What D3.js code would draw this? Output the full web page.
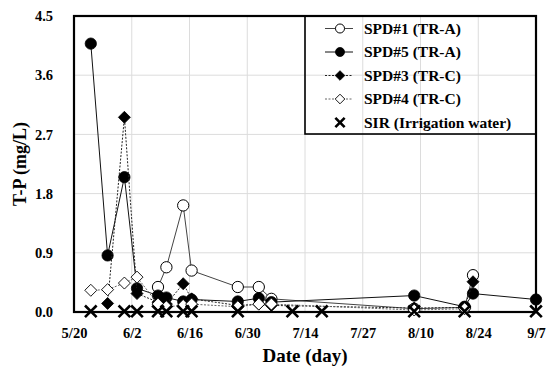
<!DOCTYPE html>
<html>
<head>
<meta charset="utf-8">
<script src="https://cdn.jsdelivr.net/npm/d3@7"></script>
<style>
  body { margin: 0; background: #fff; }
  text { font-family: "Liberation Serif", "Times New Roman", serif; font-weight: bold; fill: #000; }
</style>
</head>
<body>
<div id="root"></div>
<script>
// Sampling dates (month/day) and T-P values (mg/L), null = no sample
const dates = ["5/24", "5/28", "6/1", "6/4", "6/9", "6/11", "6/15", "6/17", "6/28", "7/3", "7/6", "7/11", "7/18", "8/9", "8/21", "8/23", "9/7"];
const spd1 = [null, null, null, null, 0.38, 0.68, 1.62, 0.63, 0.38, 0.38, 0.20, null, null, 0.05, 0.07, 0.56, null];
const spd5 = [4.08, 0.86, 2.05, 0.36, 0.25, 0.22, 0.16, 0.19, 0.16, 0.21, 0.15, null, null, 0.25, 0.08, 0.28, 0.19];
const spd3 = [null, 0.13, 2.96, 0.28, 0.15, 0.12, 0.43, 0.20, 0.10, 0.12, 0.10, null, null, 0.06, 0.07, 0.46, null];
const spd4 = [0.33, 0.34, 0.44, 0.53, 0.12, 0.08, 0.10, 0.12, 0.08, 0.12, 0.12, null, null, 0.03, 0.05, null, null];
const sir  = [0.01, null, 0.01, 0.01, 0.01, 0.01, 0.01, 0.01, 0.01, null, null, 0.01, 0.01, 0.01, 0.01, null, 0.01];

const yTicks = [0, 0.9, 1.8, 2.7, 3.6, 4.5];
const startDate = "5/20";
const endDate = "9/7";

const width = 552;
const height = 367;
const plot = { left: 74, right: 536, top: 16, bottom: 312 };

const toDate = s => { const [m, d] = s.split("/").map(Number); return new Date(2017, m - 1, d); };
const t0 = toDate(startDate);
const dayOf = s => d3.timeDay.count(t0, toDate(s));
const nDays = dayOf(endDate);

const svg = d3.select("#root").append("svg")
  .attr("width", width)
  .attr("height", height);

const x = d3.scaleLinear().domain([0, nDays]).range([plot.left, plot.right]);
const y = d3.scaleLinear().domain([0, 4.5]).range([plot.bottom, plot.top]);

// x ticks: 8 equal steps between start and end, label = floored date
const xTicks = d3.range(0, 9).map(i => i * nDays / 8);
const fmtDay = v => { const dt = d3.timeDay.offset(t0, Math.floor(v + 1e-6)); return (dt.getMonth() + 1) + "/" + dt.getDate(); };

// gridlines
svg.append("g")
  .selectAll("line.h")
  .data(yTicks)
  .join("line")
    .attr("x1", plot.left).attr("x2", plot.right)
    .attr("y1", d => y(d)).attr("y2", d => y(d))
    .attr("stroke", "#dcdcdc").attr("stroke-width", 1);
svg.append("g")
  .selectAll("line.v")
  .data(xTicks)
  .join("line")
    .attr("x1", d => x(d)).attr("x2", d => x(d))
    .attr("y1", plot.top).attr("y2", plot.bottom)
    .attr("stroke", "#dcdcdc").attr("stroke-width", 1);

// axes (labels only)
const yAxis = svg.append("g")
  .attr("transform", `translate(${plot.left - 18},0)`)
  .call(d3.axisLeft(y).tickValues(yTicks).tickFormat(d3.format(".1f")).tickSize(0));
yAxis.select(".domain").remove();
yAxis.selectAll("text").style("font-size", "14.5px").style("font-family", null);

const xAxis = svg.append("g")
  .attr("transform", `translate(0,${plot.bottom + 13})`)
  .call(d3.axisBottom(x).tickValues(xTicks).tickFormat(fmtDay).tickSize(0));
xAxis.select(".domain").remove();
xAxis.selectAll("text").style("font-size", "14.5px").style("font-family", null);

// frame
svg.append("rect")
  .attr("x", plot.left).attr("y", plot.top)
  .attr("width", plot.right - plot.left).attr("height", plot.bottom - plot.top)
  .attr("fill", "none").attr("stroke", "#000").attr("stroke-width", 2.2);

// titles
svg.append("text")
  .text("Date (day)")
  .attr("x", (plot.left + plot.right) / 2).attr("y", 362)
  .attr("text-anchor", "middle")
  .style("font-size", "19px");
svg.append("text")
  .text("T-P (mg/L)")
  .attr("transform", `translate(26, ${(plot.top + plot.bottom) / 2}) rotate(-90)`)
  .attr("text-anchor", "middle")
  .style("font-size", "18px");

const series = [
  { name: "SPD#1 (TR-A)", values: spd1, marker: "circle", fill: "#fff", line: "#444", dash: null },
  { name: "SPD#5 (TR-A)", values: spd5, marker: "circle", fill: "#000", line: "#111", dash: null },
  { name: "SPD#3 (TR-C)", values: spd3, marker: "diamond", fill: "#000", line: "#222", dash: "2,1.5" },
  { name: "SPD#4 (TR-C)", values: spd4, marker: "diamond", fill: "#fff", line: "#666", dash: "2,1.5" },
  { name: "SIR (Irrigation water)", values: sir, marker: "cross", fill: "#000", line: null, dash: null }
];

const pts = s => dates.map((d, i) => ({ d: dayOf(d), v: s.values[i] })).filter(p => p.v !== null);

// square diamond (rotated square), d3's symbolDiamond is too tall
const diamondPath = r => `M0,${-r}L${r},0L0,${r}L${-r},0Z`;

function drawMarker(g, s, k = 1) {
  if (s.marker === "cross") {
    g.append("path").attr("d", d3.symbol(d3.symbolX, 90 * k * k)())
      .attr("fill", "none").attr("stroke", "#000").attr("stroke-width", 2.6);
  } else if (s.marker === "diamond") {
    g.append("path").attr("d", diamondPath(6 * k))
      .attr("fill", s.fill).attr("stroke", "#000").attr("stroke-width", s.fill === "#fff" ? 0.9 : 0.8);
  } else {
    g.append("path").attr("d", d3.symbol(d3.symbolCircle, 100 * k * k)())
      .attr("fill", s.fill).attr("stroke", "#000").attr("stroke-width", s.fill === "#fff" ? 1 : 0.8);
  }
}

const lineGen = d3.line().x(p => x(p.d)).y(p => y(p.v));

series.forEach(s => {
  const g = svg.append("g");
  if (s.line) {
    g.append("path")
      .datum(pts(s))
      .attr("d", lineGen)
      .attr("fill", "none")
      .attr("stroke", s.line)
      .attr("stroke-width", 1)
      .attr("stroke-dasharray", s.dash);
  }
  g.selectAll("g.m")
    .data(pts(s))
    .join("g")
      .attr("transform", p => `translate(${x(p.d)},${y(p.v)})`)
      .each(function () { drawMarker(d3.select(this), s); });
});

// legend
const lg = svg.append("g").attr("transform", "translate(305,16)");
lg.append("rect")
  .attr("width", 231).attr("height", 118)
  .attr("fill", "none").attr("stroke", "#000").attr("stroke-width", 1.6);
series.forEach((s, i) => {
  const row = lg.append("g").attr("transform", `translate(0, ${12.5 + i * 23.5})`);
  if (s.line) {
    row.append("line")
      .attr("x1", 20).attr("x2", 48)
      .attr("stroke", s.line).attr("stroke-width", 1)
      .attr("stroke-dasharray", s.dash);
  }
  const m = row.append("g").attr("transform", "translate(35,0)");
  drawMarker(m, s, 0.8);
  row.append("text")
    .text(s.name)
    .attr("x", 59).attr("dy", "0.35em")
    .style("font-size", "15.5px");
});
</script>
</body>
</html>
